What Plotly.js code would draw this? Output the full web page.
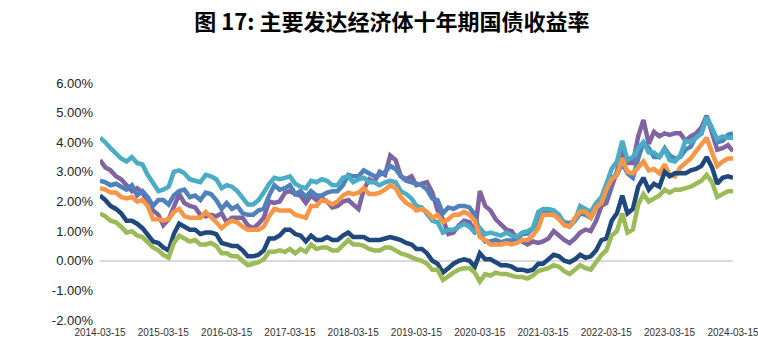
<!DOCTYPE html>
<html>
<head>
<meta charset="utf-8">
<script src="https://cdn.plot.ly/plotly-3.0.1.min.js"></script>
<style>
html,body{margin:0;padding:0;background:#fff;}
#chart{width:758px;height:351px;}
</style>
</head>
<body>
<div id="chart"></div>
<script>
// Monthly observations, 2014-03-15 ... 2024-03-15 (121 points), yields in %
const startYear = 2014, startMonth = 3, nMonths = 121;

const australia = [
 4.15,4.00,3.80,3.60,3.45,3.35,3.50,3.30,3.25,2.90,
 2.60,2.35,2.40,2.50,3.00,3.05,2.95,2.75,2.70,2.65,2.90,2.85,
 2.75,2.45,2.55,2.50,2.35,2.10,1.90,1.90,2.05,2.30,2.60,2.80,
 2.75,2.80,2.85,2.60,2.50,2.45,2.70,2.65,2.75,2.70,2.55,2.55,
 2.80,2.85,2.65,2.75,2.80,2.65,2.65,2.55,2.65,2.70,2.65,2.35,
 2.25,2.10,1.85,1.80,1.60,1.35,1.30,0.95,1.05,1.05,1.15,1.25,
 1.15,0.95,1.10,0.90,0.95,0.90,0.85,0.95,0.85,0.80,0.95,1.00,
 1.10,1.65,1.75,1.75,1.70,1.55,1.25,1.15,1.35,1.85,1.75,1.65,
 1.95,2.15,2.60,3.10,3.35,4.05,3.40,3.50,3.80,4.00,3.65,3.65,
 3.50,3.75,3.40,3.35,3.55,4.05,4.00,4.15,4.30,4.85,4.50,4.10,
 4.20,4.15,4.15
];
const italy = [
 3.40,3.15,3.05,2.85,2.75,2.55,2.35,2.45,2.30,1.95,
 1.70,1.55,1.20,1.40,1.85,2.25,1.95,1.85,1.80,1.55,1.50,1.55,
 1.50,1.60,1.30,1.45,1.45,1.45,1.20,1.10,1.25,1.45,2.00,1.95,
 2.00,2.30,2.35,2.25,2.20,1.95,2.20,2.05,2.10,2.00,1.80,1.85,
 2.00,2.05,1.90,1.75,2.40,2.75,2.65,3.00,2.90,3.55,3.40,2.85,
 2.75,2.85,2.55,2.60,2.65,2.30,1.70,1.40,0.90,0.95,1.20,1.35,
 1.30,0.95,2.35,1.85,1.70,1.40,1.25,1.05,1.00,0.75,0.65,0.55,
 0.65,0.60,0.65,0.75,1.00,0.85,0.70,0.60,0.75,0.95,1.05,1.00,
 1.35,1.85,1.95,2.50,3.00,3.80,3.30,3.30,4.20,4.75,3.95,4.35,
 4.20,4.30,4.25,4.30,4.30,4.05,4.20,4.30,4.50,4.90,4.35,3.75,
 3.80,3.90,3.70
];
const usa = [
 2.70,2.65,2.55,2.60,2.50,2.40,2.55,2.20,2.35,2.15,
 1.85,2.05,2.05,1.90,2.20,2.35,2.40,2.15,2.20,2.05,2.30,2.25,
 2.05,1.75,1.95,1.75,1.85,1.60,1.55,1.55,1.70,1.75,2.20,2.55,
 2.40,2.45,2.55,2.25,2.35,2.15,2.35,2.20,2.20,2.30,2.35,2.35,
 2.55,2.90,2.85,2.85,3.05,2.95,2.85,2.90,3.00,3.20,3.10,2.85,
 2.70,2.65,2.60,2.55,2.40,2.10,2.05,1.60,1.80,1.75,1.85,1.85,
 1.80,1.55,0.90,0.65,0.65,0.70,0.62,0.68,0.68,0.75,0.90,0.92,
 1.10,1.25,1.65,1.60,1.63,1.50,1.30,1.27,1.35,1.60,1.55,1.45,
 1.80,1.95,2.15,2.80,2.90,3.30,2.95,2.80,3.45,4.00,3.80,3.50,
 3.50,3.80,3.55,3.45,3.50,3.75,3.85,4.20,4.30,4.85,4.45,4.00,
 4.05,4.25,4.30
];
const canada = [
 2.45,2.40,2.30,2.30,2.15,2.10,2.15,2.00,2.05,1.85,
 1.40,1.40,1.35,1.40,1.65,1.75,1.50,1.45,1.45,1.45,1.65,1.45,
 1.30,1.10,1.25,1.35,1.30,1.15,1.05,1.05,1.05,1.15,1.50,1.75,
 1.70,1.70,1.70,1.55,1.50,1.45,1.85,1.85,2.05,2.00,1.90,2.00,
 2.20,2.30,2.25,2.30,2.45,2.25,2.25,2.30,2.40,2.55,2.45,2.15,
 1.95,1.85,1.70,1.75,1.65,1.45,1.55,1.30,1.40,1.55,1.55,1.65,
 1.55,1.35,0.80,0.70,0.55,0.55,0.55,0.60,0.55,0.60,0.70,0.70,
 0.85,1.10,1.55,1.55,1.55,1.40,1.20,1.15,1.45,1.65,1.65,1.45,
 1.80,1.95,2.40,2.75,2.90,3.45,3.00,2.95,3.15,3.35,3.05,3.10,
 2.95,3.25,2.90,2.85,3.15,3.30,3.45,3.70,3.95,4.15,3.65,3.20,
 3.35,3.45,3.45
];
const france = [
 2.20,2.05,1.85,1.75,1.60,1.35,1.35,1.25,1.10,0.85,
 0.65,0.60,0.45,0.35,0.90,1.25,1.15,1.05,1.05,0.90,0.95,0.95,
 0.90,0.60,0.55,0.50,0.50,0.35,0.15,0.15,0.20,0.35,0.75,0.75,
 0.85,1.05,1.05,0.90,0.85,0.65,0.85,0.70,0.70,0.80,0.70,0.70,
 0.85,0.95,0.80,0.80,0.80,0.70,0.70,0.70,0.75,0.80,0.75,0.70,
 0.60,0.55,0.40,0.40,0.25,0.00,-0.10,-0.40,-0.25,-0.10,0.00,0.05,
 0.00,-0.20,0.25,0.05,0.05,-0.05,-0.15,-0.15,-0.20,-0.30,-0.30,-0.35,
 -0.30,-0.10,-0.10,0.05,0.20,0.15,0.00,-0.05,0.05,0.20,0.10,0.15,
 0.35,0.70,0.75,1.35,1.60,2.20,1.60,1.75,2.50,2.80,2.40,2.60,
 2.50,3.00,2.85,2.95,2.95,2.95,3.05,3.10,3.20,3.50,3.15,2.60,
 2.80,2.85,2.80
];
const germany = [
 1.60,1.50,1.35,1.30,1.15,0.95,1.00,0.85,0.80,0.60,
 0.45,0.35,0.20,0.10,0.60,0.85,0.75,0.65,0.70,0.55,0.55,0.60,
 0.50,0.25,0.25,0.15,0.15,0.00,-0.15,-0.10,-0.05,0.05,0.30,0.30,
 0.35,0.30,0.40,0.25,0.40,0.30,0.55,0.40,0.45,0.45,0.35,0.35,
 0.55,0.70,0.55,0.55,0.50,0.40,0.35,0.35,0.45,0.45,0.35,0.25,
 0.20,0.10,0.05,0.00,-0.10,-0.30,-0.30,-0.65,-0.50,-0.40,-0.30,-0.25,
 -0.25,-0.40,-0.70,-0.45,-0.50,-0.40,-0.45,-0.45,-0.50,-0.55,-0.55,-0.60,
 -0.50,-0.35,-0.30,-0.25,-0.15,-0.20,-0.35,-0.45,-0.30,-0.15,-0.25,-0.30,
 -0.05,0.20,0.35,0.85,1.00,1.60,0.95,1.05,1.90,2.25,2.00,2.10,
 2.20,2.40,2.30,2.40,2.40,2.45,2.50,2.60,2.70,2.90,2.65,2.15,
 2.25,2.35,2.35
];

const seriesNames = ['意大利','美国','澳大利亚','加拿大','法国','德国'];
const seriesData = [italy, usa, australia, canada, france, germany];
const seriesColors = ['#8064A2','#4F81BD','#4BACC6','#F79646','#1F497D','#9BBB59'];

const yTickVals = [-2,-1,0,1,2,3,4,5,6];
const yTickText = ['-2.00%','-1.00%','0.00%','1.00%','2.00%','3.00%','4.00%','5.00%','6.00%'];
const xTickYears = [2014,2015,2016,2017,2018,2019,2020,2021,2022,2023,2024];

function pad(n){return n<10?'0'+n:''+n;}
const dates = [];
for (let i=0;i<nMonths;i++){
  const m0 = startMonth-1+i;
  const y = startYear + Math.floor(m0/12);
  const m = (m0%12)+1;
  dates.push(y+'-'+pad(m)+'-15');
}
const xTickVals = xTickYears.map(y=>y+'-03-15');

const traces = seriesData.map((d,i)=>({
  x: dates, y: d, type:'scatter', mode:'lines', name: seriesNames[i],
  line:{color: seriesColors[i], width:4.5, shape:'linear'},
  hoverinfo:'skip'
}));

const layout = {
  width:758, height:351,
  margin:{l:100, r:25, t:83, b:31},
  paper_bgcolor:'#fff', plot_bgcolor:'#fff',
  showlegend:false,
  title:{text:'图 17: 主要发达经济体十年期国债收益率', x:0.517, xanchor:'center', y:0.937, yanchor:'middle',
    font:{family:'"Noto Sans CJK SC", sans-serif', size:22, color:'#000', weight:700}},
  xaxis:{type:'date', range:['2014-03-15','2024-03-15'], tickvals:xTickVals,
    ticktext:xTickVals, showgrid:false, zeroline:false, showline:false, ticks:'',
    tickangle:0, ticklabelstandoff:5, ticklabeloverflow:'allow',
    tickfont:{family:'Liberation Sans, Arial, sans-serif', size:10, color:'#333'}},
  yaxis:{range:[-2,6], tickvals:yTickVals, ticktext:yTickText, showgrid:false,
    zeroline:true, zerolinecolor:'#d9d9d9', zerolinewidth:1.5, showline:false, ticks:'',
    ticklabelstandoff:6,
    tickfont:{family:'Liberation Sans, Arial, sans-serif', size:13, color:'#222'}}
};

Plotly.newPlot('chart', traces, layout, {displayModeBar:false, staticPlot:true});
</script>
</body>
</html>
